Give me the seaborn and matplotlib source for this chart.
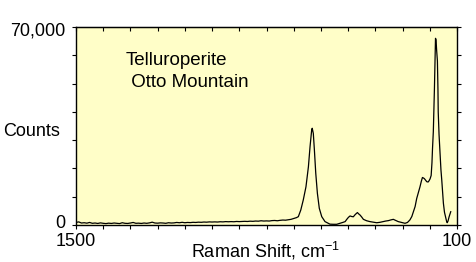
import matplotlib
matplotlib.use("Agg")
import matplotlib.pyplot as plt
import matplotlib.transforms as mtrans
import seaborn as sns
import pandas as pd

# Raman shift (cm-1) and intensity (counts)
shift = [1500, 1490, 1480, 1470, 1460, 1450, 1440, 1430, 1420, 1410, 1400, 1390, 1380,
         1370, 1360, 1350, 1340, 1330, 1320, 1310, 1300, 1290, 1280, 1270, 1260, 1250,
         1240, 1230, 1220, 1210, 1200, 1190, 1180, 1170, 1160, 1150, 1140, 1130, 1120,
         1110, 1100, 1090, 1080, 1070, 1060, 1050, 1040, 1030, 1020, 1010, 1000, 990,
         980, 970, 960, 950, 940, 930, 920, 910, 900, 890, 880, 870, 860, 850, 840, 830,
         820, 810, 800, 790, 780, 770, 760, 750, 740, 730, 720, 710, 700, 690, 683, 674,
         665, 655, 646, 640, 634, 632, 628, 624, 619, 613, 606, 597, 585, 567, 555, 542,
         530, 520, 511, 505, 499, 493, 487, 481, 474, 466, 461, 456, 450, 444, 432, 420,
         408, 395, 383, 371, 362, 352, 343, 334, 325, 316, 304, 291, 282, 273, 266, 260,
         254, 248, 242, 236, 231, 227, 223, 220, 215, 211, 206, 203, 199, 195, 192, 190,
         187, 185, 183, 181, 179, 177, 175, 172, 170, 169, 166, 162, 159, 156, 153, 150,
         146, 141, 138, 136, 133, 129, 126, 123]
counts = [900, 1100, 700, 800, 650, 900, 600, 700, 550, 750, 600, 500, 650,
          550, 700, 600, 500, 800, 600, 550, 700, 900, 600, 650, 550, 700,
          600, 750, 1000, 700, 650, 750, 700, 600, 800, 700, 750, 900, 800,
          950, 800, 900, 850, 950, 900, 1000, 950, 1050, 1000, 1100, 1050, 1100,
          1050, 1150, 1100, 1200, 1150, 1200, 1150, 1250, 1200, 1250, 1300, 1250, 1350, 1300, 1400, 1350,
          1500, 1400, 1450, 1400, 1550, 1600, 1500, 1650, 1750, 1700, 1850, 2000, 2300, 2600, 2950, 5300,
          8800, 13500, 20600, 27700, 33600, 34200, 32400, 26500, 18300, 11200, 5900, 2950, 1200, 300, 250, 250,
          600, 900, 1200, 2000, 2700, 3200, 3000, 2900, 3700, 4400, 3900, 3500, 2800, 2000, 1500, 1200,
          1000, 800, 950, 1200, 1400, 1550, 1800, 2000, 1600, 1200, 900, 600, 900, 1800, 3000, 4700,
          6500, 9400, 11500, 13500, 15500, 16800, 16600, 16400, 15800, 15300, 15200, 15600, 16300, 17500, 22000, 27000,
          33000, 40000, 48000, 58000, 66000, 65500, 62000, 58000, 48000, 40000, 32000, 25000, 19500, 15900, 11500, 7700,
          4500, 2400, 1200, 800, 1400, 2900, 3800, 4700]

df = pd.DataFrame({"shift": shift, "counts": counts})

W, H = 476, 262
fig = plt.figure(figsize=(W / 100, H / 100), dpi=100)
fig.patch.set_facecolor("white")
ax = fig.add_axes([76 / W, 1 - 225 / H, (457 - 76) / W, (225 - 27) / H])
ax.set_facecolor("#FFFEC8")

sns.lineplot(data=df, x="shift", y="counts", ax=ax, color="black", lw=0.9,
             estimator=None, sort=False)

ax.set_xlim(1500, 100)
ax.set_ylim(0, 70000)
ax.set_xlabel("")
ax.set_ylabel("")

font = "Liberation Sans"
plt.rcParams["mathtext.fontset"] = "custom"
plt.rcParams["mathtext.rm"] = font
plt.rcParams["mathtext.it"] = font

fs = 13
xt = list(range(1500, 99, -100))
ax.set_xticks(xt)
ax.set_xticklabels(["1500" if v == 1500 else ("100" if v == 100 else "") for v in xt],
                   fontsize=fs, family=font)
yt = list(range(0, 70001, 10000))
ax.set_yticks(yt)
ax.set_yticklabels(["0" if v == 0 else ("70,000" if v == 70000 else "") for v in yt],
                   fontsize=fs, family=font)
ax.tick_params(axis="x", direction="out", length=3, width=0.8, pad=3, colors="black")
ax.tick_params(axis="y", direction="out", length=3, width=0.8, pad=5, right=True, colors="black")

# nudge the two y labels like the reference ("0" sits a bit above its tick)
ylabels = ax.get_yticklabels()
ylabels[0].set_transform(ylabels[0].get_transform() +
                         mtrans.ScaledTranslation(0, 3.5 / 100, fig.dpi_scale_trans))
ylabels[-1].set_transform(ylabels[-1].get_transform() +
                          mtrans.ScaledTranslation(0, -1.5 / 100, fig.dpi_scale_trans))

top = ax.secondary_xaxis("top")
top.set_xticks(xt)
top.set_xticklabels([])
top.tick_params(direction="in", length=3, width=0.8)

for s in ax.spines.values():
    s.set_color("black")
    s.set_linewidth(1.0)

fig.text(126 / W, 1 - 65 / H, "Telluroperite", fontsize=13.5, family=font,
         ha="left", va="baseline")
fig.text(126 / W, 1 - 87 / H, " Otto Mountain", fontsize=13.5, family=font,
         ha="left", va="baseline")
fig.text(3 / W, 1 - 136 / H, "Counts", fontsize=fs, family=font,
         ha="left", va="baseline")
fig.text(191 / W, 1 - 257 / H, "Raman Shift, cm$^{-1}$", fontsize=fs, family=font,
         ha="left", va="baseline")

fig.savefig("out.png", dpi=100)
